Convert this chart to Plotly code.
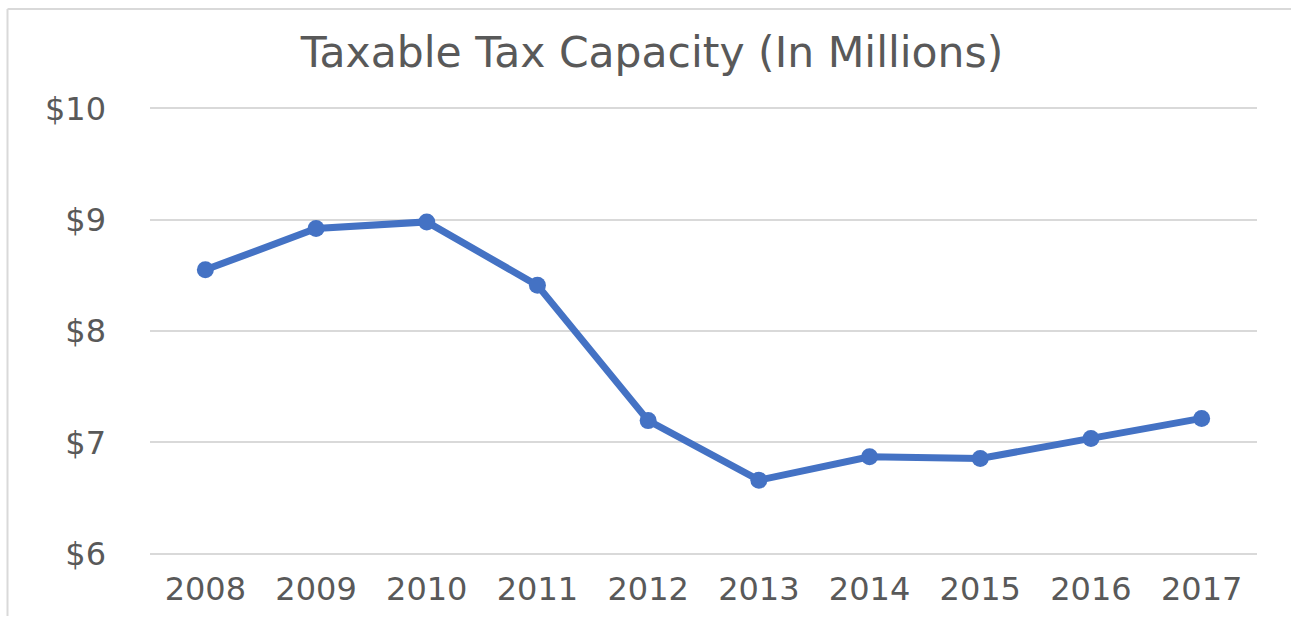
import plotly.graph_objects as go

years = ["2008", "2009", "2010", "2011", "2012", "2013", "2014", "2015", "2016", "2017"]
capacity = [8.55, 8.92, 8.98, 8.41, 7.195, 6.66, 6.87, 6.855, 7.035, 7.215]
y_ticks = [6, 7, 8, 9, 10]
y_labels = ["$6", "$7", "$8", "$9", "$10"]

W, H = 1291, 620
PAD = 0.03
y_top_px, y_bot_px = 108, 558
PX_PER_UNIT = (y_bot_px - y_top_px) / 4
T = y_top_px - PAD * PX_PER_UNIT
B = (H - y_bot_px) - PAD * PX_PER_UNIT
L, R = 150, 34

fig = go.Figure()
fig.add_trace(go.Scatter(
    x=years, y=capacity, mode="lines+markers",
    line=dict(color="#4472C4", width=7),
    marker=dict(color="#4472C4", size=17),
    hoverinfo="x+y",
))

pw = W - L - R
ph = H - T - B
def xp(px):
    return (px - L) / pw
def yp(py):
    return (H - B - py) / ph

fig.update_layout(
    width=W, height=H,
    margin=dict(l=L, r=R, t=T, b=B),
    paper_bgcolor="white", plot_bgcolor="white",
    showlegend=False,
    font=dict(family="DejaVu Sans", color="#595959"),
    title=dict(text="Taxable Tax Capacity (In Millions)", xref="container", x=0.505,
               xanchor="center", yref="container", y=1 - 52 / H, yanchor="middle",
               font=dict(size=42.5, color="#595959", family="DejaVu Sans")),
    xaxis=dict(type="category", range=[-0.5, 9.5], showgrid=False, zeroline=False,
               showline=False, ticks="", tickfont=dict(size=32, color="#595959"),
               ticklabelstandoff=10),
    yaxis=dict(range=[6 - PAD, 10 + PAD], tickvals=y_ticks, ticktext=y_labels, showgrid=True,
               gridcolor="#D9D9D9", gridwidth=2, zeroline=False, showline=False,
               ticks="", tickfont=dict(size=32, color="#595959"),
               ticklabelstandoff=43),
    shapes=[
        dict(type="line", xref="paper", yref="paper", x0=xp(7.5), x1=xp(1292), y0=yp(7.5), y1=yp(7.5),
             line=dict(color="#D9D9D9", width=2)),
        dict(type="line", xref="paper", yref="paper", x0=xp(7.5), x1=xp(7.5), y0=yp(7.5), y1=yp(621),
             line=dict(color="#D9D9D9", width=2)),
    ],
)

fig.write_html("out.html", config={"displayModeBar": False},
               post_script="document.body.style.margin='0';")
